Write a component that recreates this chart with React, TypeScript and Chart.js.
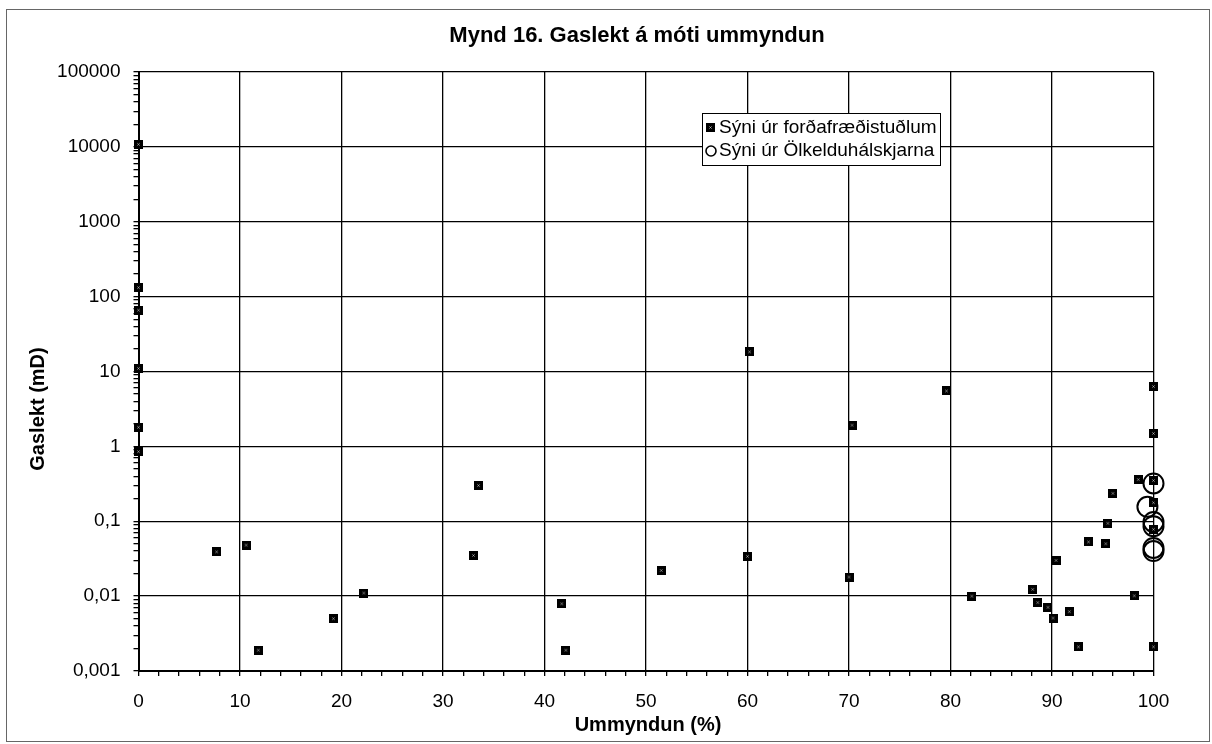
import React, { useEffect, useRef } from 'react';
import { Chart, registerables } from 'chart.js';
Chart.register(...registerables);

const TITLE = 'Mynd 16. Gaslekt á móti ummyndun';
const X_TITLE = 'Ummyndun (%)';
const Y_TITLE = 'Gaslekt (mD)';
const SERIES1_LABEL = 'Sýni úr forðafræðistuðlum';
const SERIES2_LABEL = 'Sýni úr Ölkelduhálskjarna';

// Series 1: squares
const s1X = [0, 0, 0, 0, 0, 0, 7.7, 10.6, 11.8, 19.2, 22.2, 33.0, 33.5, 41.7, 42.1, 51.5, 60.0, 60.2, 70.0, 70.3, 79.6, 82.1, 88.1, 88.6, 89.6, 90.1, 90.4, 91.7, 92.6, 93.6, 95.3, 95.5, 96.0, 98.1, 98.5, 100, 100, 100, 100, 100, 100];
const s1Y = [10800, 132, 66, 11, 1.8, 0.85, 0.039, 0.048, 0.0019, 0.005, 0.011, 0.035, 0.30, 0.0079, 0.0019, 0.022, 0.034, 18.3, 0.018, 1.92, 5.5, 0.010, 0.0123, 0.0082, 0.0071, 0.0051, 0.030, 0.0062, 0.0021, 0.053, 0.050, 0.094, 0.236, 0.0101, 0.36, 6.3, 1.49, 0.35, 0.177, 0.078, 0.0021];

// Series 2: open circles
const s2X = [100, 99.4, 100, 100, 100, 100];
const s2Y = [0.32, 0.156, 0.098, 0.086, 0.044, 0.040];

const X_MIN = 0;
const X_MAX = 100;
const X_STEP = 2;
const Y_MIN_EXP = -3;
const Y_MAX_EXP = 5;

const FONT = '"Liberation Sans", Arial, sans-serif';

function isPow10(v: number) {
  const l = Math.log10(v);
  return Math.abs(l - Math.round(l)) < 1e-9;
}
function fmtPow10(v: number) {
  const e = Math.round(Math.log10(v));
  if (e >= 0) return '1' + '0'.repeat(e);
  return '0,' + '0'.repeat(-e - 1) + '1';
}

function makeSquare() {
  const c = document.createElement('canvas');
  c.width = 9;
  c.height = 9;
  const g = c.getContext('2d')!;
  g.fillStyle = '#000';
  g.fillRect(0, 0, 9, 9);
  g.strokeStyle = '#bbb';
  g.lineWidth = 1;
  g.beginPath();
  g.moveTo(3.5, 3.5);
  g.lineTo(5.5, 5.5);
  g.moveTo(5.5, 3.5);
  g.lineTo(3.5, 5.5);
  g.stroke();
  return c;
}

export default function App() {
  const ref = useRef<HTMLCanvasElement | null>(null);

  useEffect(() => {
    document.body.style.margin = '0';
    const square = makeSquare();

    const decor = {
      id: 'decor',
      afterDraw(chart: any) {
        const ctx = chart.ctx as CanvasRenderingContext2D;
        ctx.save();
        // outer frame
        ctx.strokeStyle = '#666';
        ctx.lineWidth = 1;
        ctx.strokeRect(6.5, 9.5, 1203, 732);
        // title
        ctx.fillStyle = '#000';
        ctx.textAlign = 'center';
        ctx.textBaseline = 'middle';
        ctx.font = 'bold 22px ' + FONT;
        ctx.fillText(TITLE, 637, 36);
        // x title
        ctx.font = 'bold 20px ' + FONT;
        ctx.fillText(X_TITLE, 648, 725);
        // y title
        ctx.save();
        ctx.translate(38, 409);
        ctx.rotate(-Math.PI / 2);
        ctx.fillText(Y_TITLE, 0, 0);
        ctx.restore();
        // legend
        ctx.fillStyle = '#fff';
        ctx.fillRect(702, 113, 238, 52);
        ctx.strokeStyle = '#000';
        ctx.lineWidth = 1;
        ctx.strokeRect(702.5, 113.5, 238, 52);
        ctx.drawImage(square, 706, 123, 9, 9);
        ctx.beginPath();
        ctx.arc(711, 151, 5, 0, Math.PI * 2);
        ctx.lineWidth = 1.6;
        ctx.stroke();
        ctx.fillStyle = '#000';
        ctx.textAlign = 'left';
        ctx.font = '19px ' + FONT;
        ctx.fillText(SERIES1_LABEL, 719, 128);
        ctx.fillText(SERIES2_LABEL, 719, 151);
        ctx.restore();
      },
    };

    const chart = new Chart(ref.current!, {
      type: 'scatter',
      data: {
        datasets: [
          {
            label: SERIES2_LABEL,
            data: s2X.map((x, i) => ({ x, y: s2Y[i] })),
            pointStyle: 'circle',
            pointRadius: 10,
            borderWidth: 2,
            backgroundColor: 'rgba(0,0,0,0)',
            borderColor: '#000',
            clip: false,
          },
          {
            label: SERIES1_LABEL,
            data: s1X.map((x, i) => ({ x, y: s1Y[i] })),
            pointStyle: square as any,
            pointRadius: 4.5,
            backgroundColor: '#000',
            borderColor: '#000',
            clip: false,
          },
        ],
      },
      options: {
        animation: false,
        responsive: false,
        devicePixelRatio: 1,
        layout: { padding: { top: 72, right: 58.5, bottom: 0, left: 0 } },
        plugins: {
          legend: { display: false },
          title: { display: false },
          tooltip: { enabled: false },
        },
        scales: {
          x: {
            type: 'linear',
            min: X_MIN,
            max: X_MAX,
            afterFit: (s: any) => {
              s.height = 73;
            },
            ticks: {
              stepSize: X_STEP,
              autoSkip: false,
              maxRotation: 0,
              padding: 14,
              color: '#000',
              font: { family: FONT, size: 19 },
              callback: (v: any) => (Number(v) % 10 === 0 ? String(v) : ''),
            },
            grid: {
              color: (c: any) => (c.tick && Math.round(c.tick.value) % 10 === 0 ? '#000' : 'rgba(0,0,0,0)'),
              tickColor: '#000',
              lineWidth: 1.3,
              tickLength: 5,
            },
            border: { color: '#000', width: 2 },
          },
          y: {
            type: 'logarithmic',
            min: Math.pow(10, Y_MIN_EXP),
            max: Math.pow(10, Y_MAX_EXP),
            afterFit: (s: any) => {
              s.width = 138.5;
            },
            afterBuildTicks: (s: any) => {
              const t: any[] = [];
              for (let e = Y_MIN_EXP; e <= Y_MAX_EXP; e++) {
                for (let m = 1; m <= 9; m++) {
                  if (e === Y_MAX_EXP && m > 1) break;
                  t.push({ value: m * Math.pow(10, e) });
                }
              }
              s.ticks = t;
            },
            ticks: {
              autoSkip: false,
              padding: 13,
              color: '#000',
              font: { family: FONT, size: 19 },
              callback: (v: any) => (isPow10(Number(v)) ? fmtPow10(Number(v)) : ''),
            },
            grid: {
              color: (c: any) => (c.tick && isPow10(c.tick.value) ? '#000' : 'rgba(0,0,0,0)'),
              tickColor: '#000',
              lineWidth: 1.3,
              tickLength: 5,
            },
            border: { color: '#000', width: 2 },
          },
        },
      },
      plugins: [decor],
    });
    return () => chart.destroy();
  }, []);

  return (
    <div style={{ width: 1212, height: 744 }}>
      <canvas ref={ref} width={1212} height={744} style={{ display: 'block', width: 1212, height: 744 }} />
    </div>
  );
}
